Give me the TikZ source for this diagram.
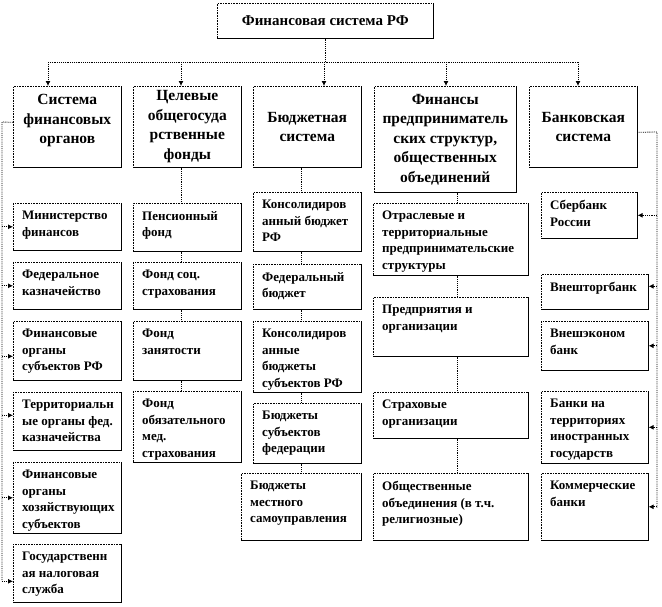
\documentclass[tikz,border=0pt]{standalone}
\usepackage{fontspec}
\setmainfont{Liberation Serif}
\usetikzlibrary{arrows.meta}

\tikzset{
    headbox/.style={draw, densely dotted, line width=0.6pt, anchor=north west, inner sep=0pt,
        align=center, font=\bfseries\fontsize{15}{19.5}\selectfont},
    groupbox/.style={draw, densely dotted, line width=0.6pt, anchor=north west, inner sep=0pt,
        minimum height=81pt, align=center, font=\bfseries\fontsize{15.5}{19.5}\selectfont},
    itembox/.style={draw, densely dotted, line width=0.6pt, anchor=north west, inner sep=0pt},
    itemtext/.style={anchor=north west, align=left, inner xsep=9pt, inner ysep=8pt,
        font=\bfseries\fontsize{13}{16.5}\selectfont},
    link/.style={densely dotted, line width=0.85pt},
    feed/.style={link, -{Latex[length=5pt,width=5pt]}}
}

\begin{document}
\begin{tikzpicture}[x=1pt, y=-1pt]
    \useasboundingbox (0,0) rectangle (662,606);
    % Head
    \node[headbox, minimum width=216pt, minimum height=35pt] (top) at (217,3) {Финансовая система РФ};
    % Groups
    \node[groupbox, minimum width=108pt] (c1) at (13,86) {Система\\финансовых\\органов\\[-4pt]};
    \node[groupbox, minimum width=108pt] (c2) at (133,86) {Целевые\\общегосуда\\рственные\\фонды};
    \node[groupbox, minimum width=108pt] (c3) at (253,86) {Бюджетная\\система};
    \node[groupbox, minimum width=142pt, minimum height=106pt] (c4) at (374,86) {Финансы\\предприниматель\\ских структур,\\общественных\\объединений};
    \node[groupbox, minimum width=108pt] (c5) at (529,86) {Банковская\\система};
    % Financial bodies
    \node[itembox, minimum width=108pt, minimum height=47pt] (a1) at (13,203) {};
    \node[itembox, minimum width=108pt, minimum height=47pt] (a2) at (13,262) {};
    \node[itembox, minimum width=108pt, minimum height=59pt] (a3) at (13,321) {};
    \node[itembox, minimum width=108pt, minimum height=58pt] (a4) at (13,392) {};
    \node[itembox, minimum width=108pt, minimum height=71pt] (a5) at (13,462) {};
    \node[itembox, minimum width=108pt, minimum height=58pt] (a6) at (13,544) {};
    \node[itemtext] (a1t) at (a1.north west) {Министерство\\финансов};
    \node[itemtext] (a2t) at (a2.north west) {Федеральное\\казначейство};
    \node[itemtext] (a3t) at (a3.north west) {Финансовые\\органы\\субъектов РФ};
    \node[itemtext] (a4t) at (a4.north west) {Территориальн\\ые органы фед.\\казначейства};
    \node[itemtext] (a5t) at (a5.north west) {Финансовые\\органы\\хозяйствующих\\субъектов};
    \node[itemtext] (a6t) at (a6.north west) {Государственн\\ая налоговая\\служба};
    % Funds
    \node[itembox, minimum width=108pt, minimum height=48pt] (b1) at (133,203) {};
    \node[itembox, minimum width=108pt, minimum height=47pt] (b2) at (133,262) {};
    \node[itembox, minimum width=108pt, minimum height=59pt] (b3) at (133,321) {};
    \node[itembox, minimum width=108pt, minimum height=71pt] (b4) at (133,391) {};
    \node[itemtext] (b1t) at (b1.north west) {Пенсионный\\фонд};
    \node[itemtext] (b2t) at (b2.north west) {Фонд соц.\\страхования};
    \node[itemtext] (b3t) at (b3.north west) {Фонд\\занятости};
    \node[itemtext] (b4t) at (b4.north west) {Фонд\\обязательного\\мед.\\страхования};
    % Budgets
    \node[itembox, minimum width=108pt, minimum height=59pt] (d1) at (253,192) {};
    \node[itembox, minimum width=108pt, minimum height=45pt] (d2) at (253,264) {};
    \node[itembox, minimum width=108pt, minimum height=71pt] (d3) at (253,321) {};
    \node[itembox, minimum width=108pt, minimum height=60pt] (d4) at (253,403) {};
    \node[itembox, minimum width=120pt, minimum height=67pt] (d5) at (241,473) {};
    \node[itemtext] (d1t) at (d1.north west) {Консолидиров\\анный бюджет\\РФ};
    \node[itemtext] (d2t) at (d2.north west) {Федеральный\\бюджет};
    \node[itemtext] (d3t) at (d3.north west) {Консолидиров\\анные\\бюджеты\\субъектов РФ};
    \node[itemtext] (d4t) at (d4.north west) {Бюджеты\\субъектов\\федерации};
    \node[itemtext] (d5t) at (d5.north west) {Бюджеты\\местного\\самоуправления};
    % Enterprises
    \node[itembox, minimum width=155pt, minimum height=72pt] (e1) at (373,203) {};
    \node[itembox, minimum width=155pt, minimum height=59pt] (e2) at (373,297) {};
    \node[itembox, minimum width=155pt, minimum height=46pt] (e3) at (373,392) {};
    \node[itembox, minimum width=155pt, minimum height=67pt] (e4) at (373,473) {};
    \node[itemtext] (e1t) at (e1.north west) {Отраслевые и\\территориальные\\предпринимательские\\структуры};
    \node[itemtext] (e2t) at (e2.north west) {Предприятия и\\организации};
    \node[itemtext] (e3t) at (e3.north west) {Страховые\\организации};
    \node[itemtext] (e4t) at (e4.north west) {Общественные\\объединения (в т.ч.\\религиозные)};
    % Banks
    \node[itembox, minimum width=96pt, minimum height=46pt] (f1) at (541,192) {};
    \node[itembox, minimum width=107pt, minimum height=35pt] (f2) at (541,274) {};
    \node[itembox, minimum width=107pt, minimum height=49pt] (f3) at (541,321) {};
    \node[itembox, minimum width=107pt, minimum height=72pt] (f4) at (541,391) {};
    \node[itembox, minimum width=107pt, minimum height=67pt] (f5) at (541,473) {};
    \node[itemtext] (f1t) at (f1.north west) {Сбербанк\\России};
    \node[itemtext] (f2t) at (f2.north west) {Внешторгбанк};
    \node[itemtext] (f3t) at (f3.north west) {Внешэконом\\банк};
    \node[itemtext] (f4t) at (f4.north west) {Банки на\\территориях\\иностранных\\государств};
    \node[itemtext] (f5t) at (f5.north west) {Коммерческие\\банки};
    % Shadow edges
    \foreach \n in {top,c1,c2,c3,c4,c5,a1,a2,a3,a4,a5,a6,b1,b2,b3,b4,d1,d2,d3,d4,d5,e1,e2,e3,e4,f1,f2,f3,f4,f5}
        \draw[line width=0.6pt] (\n.north east) -- (\n.south east) -- (\n.south west);
    % Bus under the head
    \coordinate (t1) at (48,62);
    \coordinate (t2) at (181,62);
    \coordinate (t3) at (324,62);
    \coordinate (t4) at (446,62);
    \coordinate (t5) at (578,62);
    \draw[link] (top.south) -- (top.south |- t3);
    \draw[link] (t1) -- (t5);
    \draw[feed] (t1) -- (t1 |- c1.north);
    \draw[feed] (t2) -- (t2 |- c2.north);
    \draw[feed] (t3) -- (t3 |- c3.north);
    \draw[feed] (t4) -- (t4 |- c4.north);
    \draw[feed] (t5) -- (t5 |- c5.north);
    % Left rail
    \coordinate (lr) at (2,122);
    \draw[link] ([yshift=4.5pt]c1.west) -- (lr) -- (2,581);
    \draw[feed] (lr |- a1.west) -- (a1.west);
    \draw[feed] (lr |- a2.west) -- (a2.west);
    \draw[feed] ([yshift=-5.5pt]a3.west -| lr) -- ([yshift=-5.5pt]a3.west);
    \draw[feed] ([yshift=6pt]a4.west -| lr) -- ([yshift=6pt]a4.west);
    \draw[feed] (lr |- a5.west) -- (a5.west);
    \draw[feed] ([yshift=-8pt]a6.west -| lr) -- ([yshift=-8pt]a6.west);
    % Column lines
    \coordinate (k2) at (181,0);
    \coordinate (k3) at (301,0);
    \coordinate (k4) at (457,0);
    \draw[link] (c2.south -| k2) -- (b1.north -| k2);
    \draw[link] (b1.south -| k2) -- (b2.north -| k2);
    \draw[link] (b2.south -| k2) -- (b3.north -| k2);
    \draw[link] (b3.south -| k2) -- (b4.north -| k2);
    \draw[link] (c3.south -| k3) -- (d1.north -| k3);
    \draw[link] (d1.south -| k3) -- (d2.north -| k3);
    \draw[link] (d2.south -| k3) -- (d3.north -| k3);
    \draw[link] (d3.south -| k3) -- (d4.north -| k3);
    \draw[link] (d4.south -| k3) -- (d5.north -| k3);
    \draw[link] (c4.south -| k4) -- (e1.north -| k4);
    \draw[link] (e1.south -| k4) -- (e2.north -| k4);
    \draw[link] (e2.south -| k4) -- (e3.north -| k4);
    \draw[link] (e3.south -| k4) -- (e4.north -| k4);
    % Right rail
    \coordinate (rr) at (657,132);
    \draw[link] ([yshift=-5.5pt]c5.east) -- (rr) -- (657,508);
    \draw[feed] (rr |- f1.east) -- (f1.east);
    \draw[feed] ([yshift=5.5pt]f2.east -| rr) -- ([yshift=5.5pt]f2.east);
    \draw[feed] (rr |- f3.east) -- (f3.east);
    \draw[feed] (rr |- f4.east) -- (f4.east);
    \draw[feed] (rr |- f5.east) -- (f5.east);
\end{tikzpicture}
\end{document}
